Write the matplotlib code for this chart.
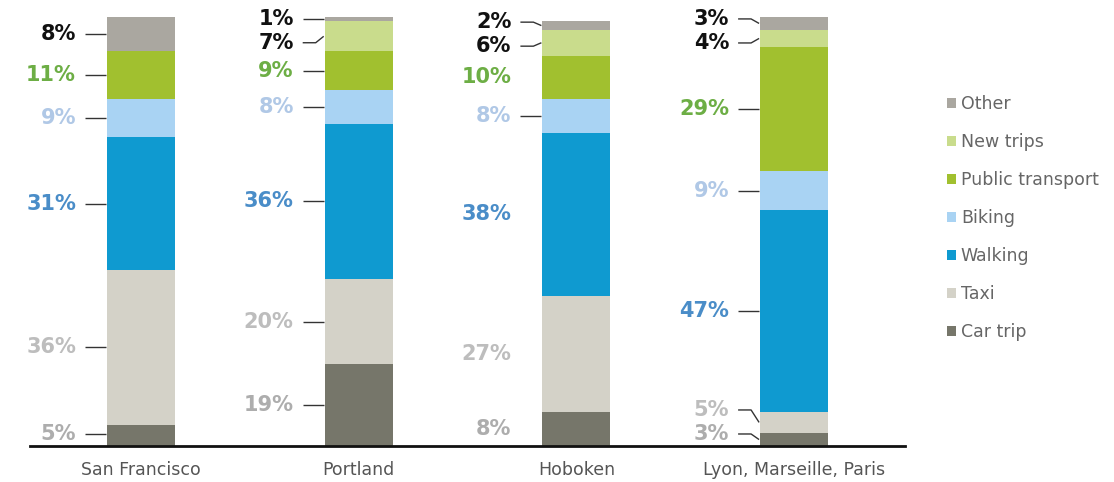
import matplotlib
matplotlib.use("Agg")
import matplotlib.pyplot as plt
from matplotlib.patches import Patch

# ---- data ----
cities = ["San Francisco", "Portland", "Hoboken", "Lyon, Marseille, Paris"]
series = ["Car trip", "Taxi", "Walking", "Biking", "Public transport", "New trips", "Other"]
car_trip = [5, 19, 8, 3]
taxi = [36, 20, 27, 5]
walking = [31, 36, 38, 47]
biking = [9, 8, 8, 9]
public_transport = [11, 9, 10, 29]
new_trips = [0, 7, 6, 4]
other = [8, 1, 2, 3]
values = [car_trip, taxi, walking, biking, public_transport, new_trips, other]

# ---- styles ----
bar_colors = ["#76766a", "#d4d2c8", "#0f9ad0", "#a9d3f3", "#a1c02f", "#c9dc8c", "#aaa7a0"]
label_colors = ["#adadad", "#bdbdbd", "#4a8dc8", "#b0c8e6", "#6dae45", "#111111", "#111111"]
no_leader = {(2, 0), (2, 1), (2, 2), (2, 4)}

fig = plt.figure(figsize=(11.14, 4.82), dpi=100)
H = 482.0
W = 1114.0
ax = fig.add_axes([0, (H - 446) / H, 1, (446 - 17) / H])
spacing = 217.7
x0 = 141.0
ax.set_xlim(-x0 / spacing, (W - x0) / spacing)
ax.set_ylim(0, 100)

bw = 68 / spacing
xs = list(range(len(cities)))
bottoms = [0] * len(cities)
for s, vals in enumerate(values):
    ax.bar(xs, vals, width=bw, bottom=bottoms, color=bar_colors[s], linewidth=0, zorder=2)
    bottoms = [b + v for b, v in zip(bottoms, vals)]

# ---- labels with leader lines ----
min_gap = 5.6
for i in xs:
    items = []
    base = 0
    for s, vals in enumerate(values):
        v = vals[i]
        if v > 0:
            items.append([s, v, base + v / 2, base + v / 2])
        base += v
    # de-overlap
    for _ in range(100):
        moved = False
        for k in range(len(items) - 1):
            gap = items[k + 1][3] - items[k][3]
            if gap < min_gap:
                d = (min_gap - gap) / 2
                items[k][3] -= d
                items[k + 1][3] += d
                moved = True
        for it in items:
            it[3] = min(max(it[3], 2.8), 99.6)
        if not moved:
            break
    edge = i - bw / 2
    for s, v, mid, ly in items:
        tx = edge - 31 / spacing
        ax.text(tx, ly, f"{v}%", ha="right", va="center", fontsize=15,
                fontweight="bold", color=label_colors[s], zorder=3)
        if (i, s) not in no_leader:
            x_start = edge - 22 / spacing
            if abs(ly - mid) > 0.3:
                ax.plot([x_start, edge - 9 / spacing, edge - 1 / spacing], [ly, ly, mid],
                        color="#333333", lw=1, zorder=1, solid_capstyle="butt")
            else:
                ax.plot([x_start, edge - 1 / spacing], [ly, ly],
                        color="#333333", lw=1, zorder=1, solid_capstyle="butt")

# ---- axes styling ----
for sp in ["top", "right", "left"]:
    ax.spines[sp].set_visible(False)
ax.spines["bottom"].set_bounds((30 - x0) / spacing, (905 - x0) / spacing)
ax.spines["bottom"].set_linewidth(2)
ax.spines["bottom"].set_color("#111111")
ax.set_yticks([])
ax.set_xticks(xs, cities)
ax.tick_params(axis="x", length=0, pad=11, labelsize=12.5, labelcolor="#555555")

# ---- legend ----
handles = [Patch(facecolor=bar_colors[s], edgecolor="none", label=series[s])
           for s in reversed(range(len(series)))]
leg = fig.legend(handles=handles, loc="upper left", bbox_to_anchor=(940 / W, 1 - 88.5 / H),
                 frameon=False, fontsize=12.5, labelspacing=1.145, handlelength=0.5,
                 handleheight=0.5, handletextpad=0.3, borderaxespad=0)
for t in leg.get_texts():
    t.set_color("#666666")

fig.savefig("out.png", dpi=100)
